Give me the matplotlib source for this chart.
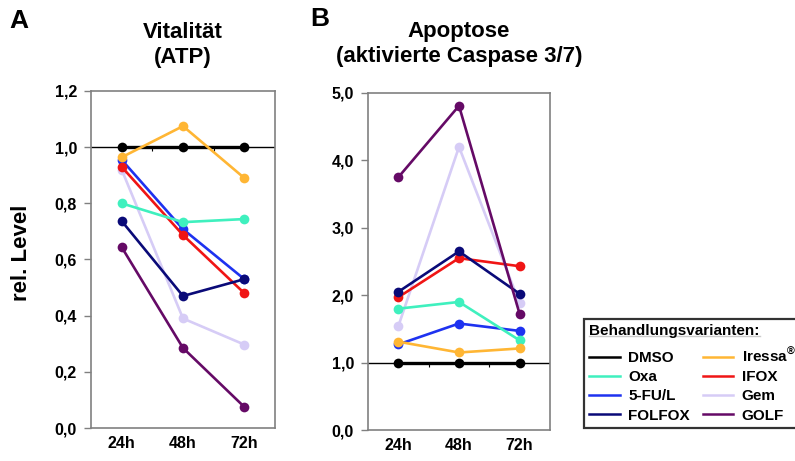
import matplotlib
matplotlib.use("Agg")
import matplotlib.pyplot as plt
from matplotlib.ticker import FuncFormatter, FixedLocator
from matplotlib.lines import Line2D

plt.rcParams['font.family'] = ['Liberation Sans', 'DejaVu Sans']
plt.rcParams['font.weight'] = 'bold'
plt.rcParams['mathtext.fontset'] = 'custom'
plt.rcParams['mathtext.rm'] = 'Liberation Sans:bold'
plt.rcParams['mathtext.bf'] = 'Liberation Sans:bold'

times = ["24h", "48h", "72h"]
series = ["DMSO", "Oxa", "5-FU/L", "FOLFOX", "Iressa", "IFOX", "Gem", "GOLF"]
labels = ["DMSO", "Oxa", "5-FU/L", "FOLFOX", r"Iressa$^{\mathrm{®}}$", "IFOX", "Gem", "GOLF"]
colors = {"DMSO": "#000000", "Oxa": "#3FF0BE", "5-FU/L": "#1E32F0", "FOLFOX": "#0A0A78",
          "Iressa": "#FFB634", "IFOX": "#F01515", "Gem": "#D6CCF6", "GOLF": "#650A66"}

vital = {
    "DMSO":   [1.00, 1.00, 1.00],
    "Oxa":    [0.80, 0.733, 0.744],
    "5-FU/L": [0.955, 0.708, 0.53],
    "FOLFOX": [0.737, 0.47, 0.53],
    "Iressa": [0.964, 1.075, 0.89],
    "IFOX":   [0.93, 0.687, 0.48],
    "Gem":    [0.92, 0.39, 0.297],
    "GOLF":   [0.644, 0.285, 0.075],
}
apopt = {
    "DMSO":   [1.00, 1.00, 1.00],
    "Oxa":    [1.80, 1.90, 1.33],
    "5-FU/L": [1.27, 1.58, 1.47],
    "FOLFOX": [2.05, 2.65, 2.02],
    "Iressa": [1.31, 1.15, 1.21],
    "IFOX":   [1.97, 2.55, 2.43],
    "Gem":    [1.54, 4.20, 1.88],
    "GOLF":   [3.75, 4.81, 1.72],
}
draw_order = ["DMSO", "Gem", "5-FU/L", "IFOX", "Oxa", "Iressa", "FOLFOX", "GOLF"]

fig = plt.figure(figsize=(7.95, 4.61), dpi=100)
axA = fig.add_axes([91/795, 33/461, 184/795, 337/461])
axB = fig.add_axes([368/795, 31/461, 182/795, 337/461])

comma = FuncFormatter(lambda v, p: f"{v:.1f}".replace(".", ","))
for ax, data, ymax, step in [(axA, vital, 1.2, 0.2), (axB, apopt, 5.0, 1.0)]:
    x = list(range(len(times)))
    ax.axhline(1.0, color="black", lw=1.0, zorder=1)
    ax.vlines([0.5, 1.5], 1.0 - ymax * 0.012, 1.0, color="black", lw=0.8, zorder=1)
    for s in draw_order:
        lw = 2.4 if s == "DMSO" else 1.9
        ax.plot(x, data[s], color=colors[s], lw=lw, marker="o", ms=7,
                markeredgewidth=0, zorder=3)
    ax.set_xlim(-0.5, 2.5)
    ax.set_ylim(0, ymax)
    n = int(round(ymax / step))
    ax.yaxis.set_major_locator(FixedLocator([i * step for i in range(n + 1)]))
    ax.yaxis.set_major_formatter(comma)
    ax.set_xticks(x)
    ax.set_xticklabels(times)
    ax.tick_params(axis="x", length=0, pad=6, labelsize=11.5)
    ax.tick_params(axis="y", direction="out", length=5, width=1, color="#808080",
                   labelsize=11.5, pad=5)
    for sp in ax.spines.values():
        sp.set_color("#808080")
        sp.set_linewidth(1.2)
    for lab in ax.get_xticklabels() + ax.get_yticklabels():
        lab.set_fontweight("bold")

axA.set_title("Vitalität\n(ATP)", fontsize=16, fontweight="bold", pad=20, linespacing=1.25)
axB.set_title("Apoptose\n(aktivierte Caspase 3/7)", fontsize=16, fontweight="bold", pad=22, linespacing=1.25)
fig.text(22/795, 1 - 253/461, "rel. Level", rotation=90, ha="center", va="center",
         fontsize=16, fontweight="bold")
fig.text(9/795, 1 - 21/461, "A", fontsize=19, fontweight="bold", ha="left", va="center")
fig.text(310/795, 1 - 19/461, "B", fontsize=19, fontweight="bold", ha="left", va="center")

leg_handles = [Line2D([], [], color=colors[s], lw=1.8) for s in series]
leg = fig.legend(leg_handles, labels, ncol=2, loc="lower left",
                 bbox_to_anchor=(584/795, 33/461), frameon=True, fancybox=False,
                 edgecolor="black", fontsize=11, handlelength=2.0, handletextpad=0.55,
                 columnspacing=0.85, labelspacing=0.34, borderpad=0.35, borderaxespad=0,
                 handleheight=0.7,
                 title="Behandlungsvarianten:", title_fontproperties={"weight": "bold", "size": 11})
leg.get_frame().set_linewidth(1.6)
leg._legend_box.align = "left"
leg._legend_box.sep = 6
for t in leg.get_texts():
    t.set_fontweight("bold")

fig.canvas.draw()
r = fig.canvas.get_renderer()
bb = leg.get_title().get_window_extent(r)
inv = fig.transFigure.inverted()
(x0, y0), (x1, y1) = inv.transform([(bb.x0, bb.y0), (bb.x1, bb.y0)])
fig.add_artist(Line2D([x0, x1], [y0 + 0.006, y0 + 0.006], color="black", lw=1.0,
                      transform=fig.transFigure))

fig.savefig("out.png", dpi=100)
